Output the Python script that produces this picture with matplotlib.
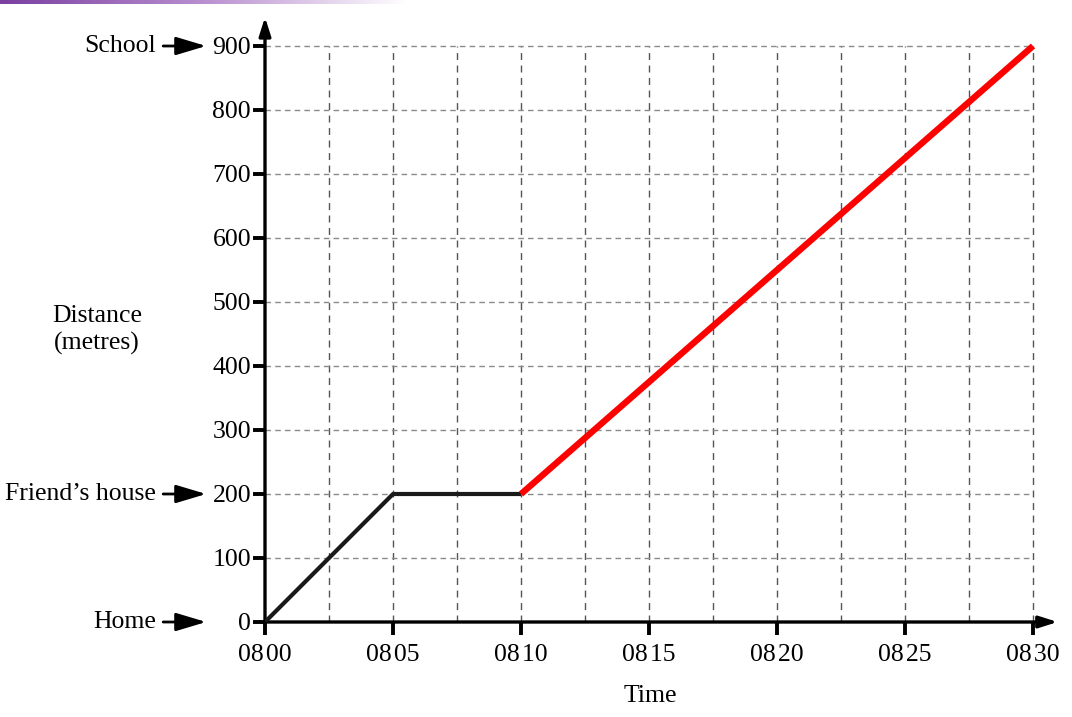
import numpy as np
import matplotlib.pyplot as plt
from matplotlib.colors import LinearSegmentedColormap

plt.rcParams['font.family'] = ['Liberation Serif', 'DejaVu Serif']

# data: minutes after 08 00, distance in metres
walk_t = [0, 5, 10]
walk_d = [0, 200, 200]
run_t = [10, 30]
run_d = [200, 900]

x_ticks = [0, 5, 10, 15, 20, 25, 30]
x_labels = ["08\u200a00", "08\u200a05", "08\u200a10", "08\u200a15",
            "08\u200a20", "08\u200a25", "08\u200a30"]
y_ticks = [0, 100, 200, 300, 400, 500, 600, 700, 800, 900]
place_names = ["Home", "Friend\u2019s house", "School"]
place_dist = [0, 200, 900]

fig = plt.figure(figsize=(10.72, 7.17), dpi=100, facecolor="white")
ax = fig.add_axes([265/1072, 1-622/717, (1033-265)/1072, (622-46)/717])
ax.set_xlim(0, 30)
ax.set_ylim(0, 900)

for s in ax.spines.values():
    s.set_visible(False)

# grid
for gx in np.arange(2.5, 30.1, 2.5):
    ax.plot([gx, gx], [0, 900], color='#555555', lw=1.0, ls=(0, (5, 4)), zorder=1,
            clip_on=False)
for gy in y_ticks[1:]:
    ax.plot([0, 30], [gy, gy], color='#8a8a8a', lw=1.0, ls=(0, (4, 3)), zorder=1,
            clip_on=False)

# axes with arrows
ax.annotate('', xy=(1.032, 0), xycoords='axes fraction', xytext=(0, 0),
            arrowprops=dict(arrowstyle='-|>,head_length=1.1,head_width=0.35',
                            color='black', lw=2.4, shrinkA=0, shrinkB=0))
ax.annotate('', xy=(0, 1.05), xycoords='axes fraction', xytext=(0, 0),
            arrowprops=dict(arrowstyle='-|>,head_length=1.1,head_width=0.35',
                            color='black', lw=2.4, shrinkA=0, shrinkB=0))

ax.set_xticks(x_ticks)
ax.set_xticklabels(x_labels)
ax.set_yticks(y_ticks)
ax.tick_params(axis='both', labelsize=18.5, width=2.8, length=9, color='black')
ax.tick_params(axis='x', pad=7)
ax.tick_params(axis='y', pad=1)

# journey
ax.plot(walk_t, walk_d, color='#1a1a1a', lw=3.0, zorder=3, solid_capstyle='butt')
ax.plot(run_t, run_d, color='#ff0000', lw=4.6, zorder=4, solid_capstyle='butt',
        clip_on=False)

# place labels with arrows
for name, d in zip(place_names, place_dist):
    ax.annotate(name, xy=(-2.3, d), xycoords='data',
                xytext=(-4.25, d), textcoords='data',
                ha='right', va='center', fontsize=18.5,
                arrowprops=dict(arrowstyle='-|>,head_length=1.0,head_width=0.3',
                                color='black', lw=2.0, shrinkA=3, shrinkB=0),
                annotation_clip=False)

fig.text(97/1072, 1-330/717, "Distance\n(metres)", ha='center', va='center',
         fontsize=18.5, linespacing=1.25)
fig.text(650/1072, 1-696/717, "Time", ha='center', va='center', fontsize=18.5)

# decorative band at the top
band = fig.add_axes([0, 1-4/717, 0.38, 4/717])
cmap = LinearSegmentedColormap.from_list('band', ['#7b3fa0', '#b98fd0', '#ffffff'])
band.imshow(np.linspace(0, 1, 200)[None, :], aspect='auto', cmap=cmap)
band.axis('off')

fig.savefig("out.png", dpi=100)
